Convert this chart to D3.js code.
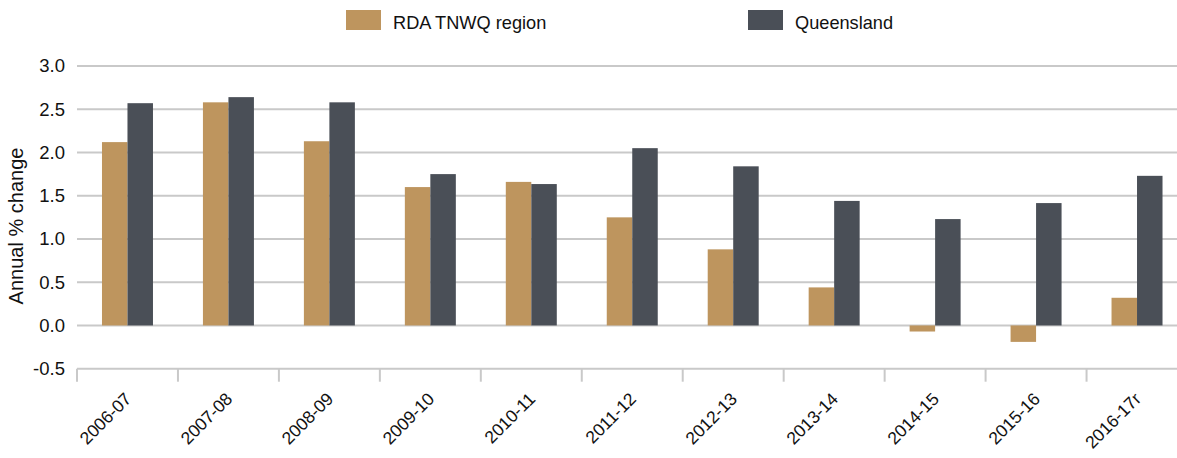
<!DOCTYPE html>
<html>
<head>
<meta charset="utf-8">
<script src="https://cdn.jsdelivr.net/npm/d3@7"></script>
<style>
  body { margin: 0; background: #fff; }
  svg { display: block; font-family: "Liberation Sans", Arial, sans-serif; }
</style>
</head>
<body>
<svg width="1177" height="458"></svg>
<script>
var years = ["2006-07", "2007-08", "2008-09", "2009-10", "2010-11", "2011-12",
    "2012-13", "2013-14", "2014-15", "2015-16", "2016-17r"];
var seriesNames = ["RDA TNWQ region", "Queensland"];
var rdaValues = [2.12, 2.58, 2.13, 1.60, 1.66, 1.25, 0.88, 0.44, -0.07, -0.19, 0.32];
var qldValues = [2.57, 2.64, 2.58, 1.75, 1.635, 2.05, 1.84, 1.44, 1.23, 1.415, 1.73];
var yTicks = [-0.5, 0, 0.5, 1, 1.5, 2, 2.5, 3];

var colors = ["#be955e", "#4a4f57"];

var svg = d3.select("svg"),
    width = +svg.attr("width"),
    height = +svg.attr("height");

// plot box (right edge runs past the picture, as in the original crop)
var plotLeft = 77, plotRight = 1187.5, plotTop = 66, plotBottom = 368.7;

var x = d3.scaleBand()
    .domain(years)
    .range([plotLeft, plotRight])
    .paddingInner(0)
    .paddingOuter(0);

var x1 = d3.scaleBand()
    .domain([0, 1])
    .range([0, x.bandwidth()])
    .paddingInner(0)
    .paddingOuter(0.98);

var y = d3.scaleLinear()
    .domain([-0.5, 3])
    .range([plotBottom, plotTop]);

var data = years.map(function (d, i) {
    return { year: d, values: [rdaValues[i], qldValues[i]] };
});

// gridlines
svg.append("g")
    .selectAll("line")
    .data(yTicks)
    .enter().append("line")
    .attr("x1", plotLeft)
    .attr("x2", width)
    .attr("y1", function (d) { return y(d); })
    .attr("y2", function (d) { return y(d); })
    .attr("stroke", "#c9c9c9")
    .attr("stroke-width", 2);

// y tick labels (plain hyphen for negatives, like the original)
svg.append("g")
    .selectAll("text")
    .data(yTicks)
    .enter().append("text")
    .attr("x", 65)
    .attr("y", function (d) { return y(d); })
    .attr("dy", "0.35em")
    .attr("text-anchor", "end")
    .attr("font-size", "18.5px")
    .attr("fill", "#111")
    .text(function (d) { return d.toFixed(1); });

// y axis title
svg.append("text")
    .attr("transform", "translate(23,226) rotate(-90)")
    .attr("text-anchor", "middle")
    .attr("font-size", "20px")
    .attr("fill", "#111")
    .text("Annual % change");

// bars
var groups = svg.append("g")
    .selectAll("g")
    .data(data)
    .enter().append("g")
    .attr("transform", function (d) { return "translate(" + x(d.year) + ",0)"; });

groups.selectAll("rect")
    .data(function (d) { return d.values; })
    .enter().append("rect")
    .attr("x", function (d, i) { return x1(i); })
    .attr("width", x1.bandwidth())
    .attr("y", function (d) { return y(Math.max(0, d)); })
    .attr("height", function (d) { return Math.abs(y(d) - y(0)); })
    .attr("fill", function (d, i) { return colors[i]; });

// x tick marks at band edges
svg.append("g")
    .selectAll("line")
    .data(years)
    .enter().append("line")
    .attr("x1", function (d) { return x(d); })
    .attr("x2", function (d) { return x(d); })
    .attr("y1", plotBottom)
    .attr("y2", plotBottom + 13)
    .attr("stroke", "#c9c9c9")
    .attr("stroke-width", 2);

// x labels
svg.append("g")
    .selectAll("text")
    .data(years)
    .enter().append("text")
    .attr("transform", function (d) {
        return "translate(" + (x(d) + x.bandwidth() / 2 + 5) + ",400) rotate(-45)";
    })
    .attr("text-anchor", "end")
    .attr("font-size", "17.5px")
    .attr("fill", "#111")
    .text(function (d) { return d; });

// legend
var legendX = [346, 748];
var legend = svg.append("g")
    .selectAll("g")
    .data(seriesNames)
    .enter().append("g")
    .attr("transform", function (d, i) { return "translate(" + legendX[i] + ",10)"; });

legend.append("rect")
    .attr("width", 35)
    .attr("height", 20)
    .attr("fill", function (d, i) { return colors[i]; });

legend.append("text")
    .attr("x", 47)
    .attr("y", 19)
    .attr("font-size", "18.2px")
    .attr("fill", "#111")
    .text(function (d) { return d; });
</script>
</body>
</html>
